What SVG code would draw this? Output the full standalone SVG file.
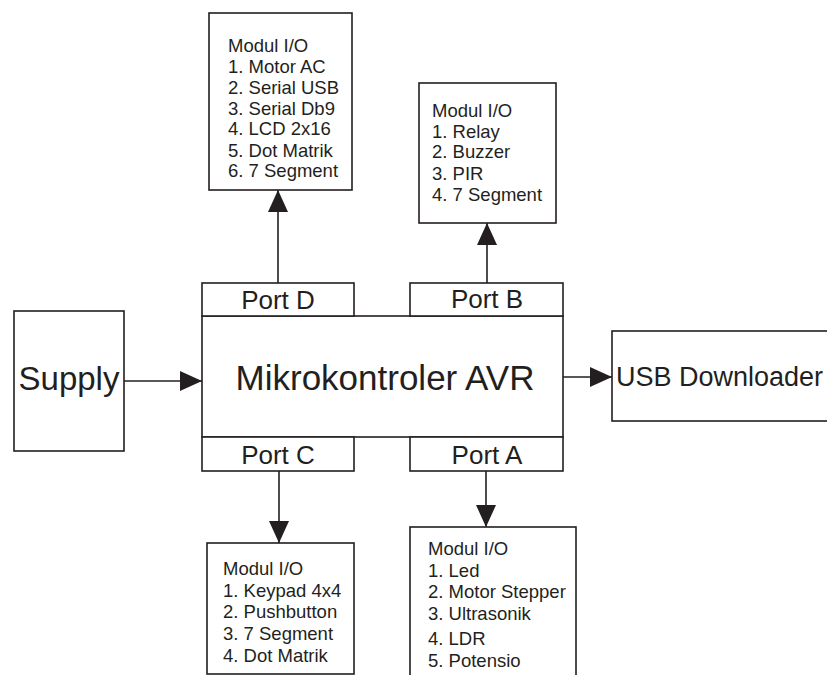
<svg xmlns="http://www.w3.org/2000/svg" width="827" height="675" viewBox="0 0 827 675">
<style>
.box{fill:#fff;stroke:#231f20;stroke-width:1.6}
.t{font-family:"Liberation Sans",Arial,sans-serif;fill:#231f20}
.m{font-size:18.5px}
.p{font-size:26px;text-anchor:middle}
.c{stroke:#231f20;stroke-width:1.6;fill:none}
</style>
<defs>
<marker id="ah" markerUnits="userSpaceOnUse" markerWidth="23" markerHeight="20" refX="22" refY="10" orient="auto" viewBox="0 0 23 20">
<path d="M0,0 L22,10 L0,20 z" fill="#231f20"/>
</marker>
</defs>
<rect width="827" height="675" fill="#fff"/>
<g id="connectors">
<path class="c" d="M124,381 H202" marker-end="url(#ah)"/>
<path class="c" d="M563,377 H612" marker-end="url(#ah)"/>
<path class="c" d="M278,283 V190" marker-end="url(#ah)"/>
<path class="c" d="M487,283 V223" marker-end="url(#ah)"/>
<path class="c" d="M279,471 V543" marker-end="url(#ah)"/>
<path class="c" d="M486,471 V527" marker-end="url(#ah)"/>
</g>
<g id="mcu">
<rect class="box" x="202" y="316" width="361" height="121"/>
<text class="t" x="385" y="390" font-size="35" text-anchor="middle">Mikrokontroler AVR</text>
</g>
<g id="portD">
<rect class="box" x="202" y="283" width="152" height="33"/>
<text class="t p" x="278" y="309">Port D</text>
</g>
<g id="portB">
<rect class="box" x="410" y="283" width="153" height="33"/>
<text class="t p" x="487" y="308">Port B</text>
</g>
<g id="portC">
<rect class="box" x="202" y="437" width="152" height="34"/>
<text class="t p" x="278" y="464">Port C</text>
</g>
<g id="portA">
<rect class="box" x="410" y="437" width="153" height="34"/>
<text class="t p" x="487" y="464">Port A</text>
</g>
<g id="supply">
<rect class="box" x="14" y="311" width="110" height="140"/>
<text class="t" x="69" y="390" font-size="33" text-anchor="middle">Supply</text>
</g>
<g id="usb">
<rect class="box" x="612" y="331" width="240" height="90"/>
<text class="t" x="616" y="386" font-size="27">USB Downloader</text>
</g>
<g id="modD">
<rect class="box" x="209" y="13" width="143" height="177"/>
<text class="t m" x="228" y="52">Modul I/O</text>
<text class="t m" x="228" y="73">1. Motor AC</text>
<text class="t m" x="228" y="94">2. Serial USB</text>
<text class="t m" x="228" y="115">3. Serial Db9</text>
<text class="t m" x="228" y="135">4. LCD 2x16</text>
<text class="t m" x="228" y="157">5. Dot Matrik</text>
<text class="t m" x="228" y="177">6. 7 Segment</text>
</g>
<g id="modB">
<rect class="box" x="419" y="83" width="137" height="140"/>
<text class="t m" x="432" y="117">Modul I/O</text>
<text class="t m" x="432" y="138">1. Relay</text>
<text class="t m" x="432" y="158">2. Buzzer</text>
<text class="t m" x="432" y="180">3. PIR</text>
<text class="t m" x="432" y="201">4. 7 Segment</text>
</g>
<g id="modC">
<rect class="box" x="207" y="543" width="147" height="131"/>
<text class="t m" x="223" y="575">Modul I/O</text>
<text class="t m" x="223" y="597">1. Keypad 4x4</text>
<text class="t m" x="223" y="618">2. Pushbutton</text>
<text class="t m" x="223" y="640">3. 7 Segment</text>
<text class="t m" x="223" y="662">4. Dot Matrik</text>
</g>
<g id="modA">
<rect class="box" x="410" y="527" width="166" height="170"/>
<text class="t m" x="428" y="555">Modul I/O</text>
<text class="t m" x="428" y="577">1. Led</text>
<text class="t m" x="428" y="598">2. Motor Stepper</text>
<text class="t m" x="428" y="620">3. Ultrasonik</text>
<text class="t m" x="428" y="645">4. LDR</text>
<text class="t m" x="428" y="667">5. Potensio</text>
</g>
</svg>
